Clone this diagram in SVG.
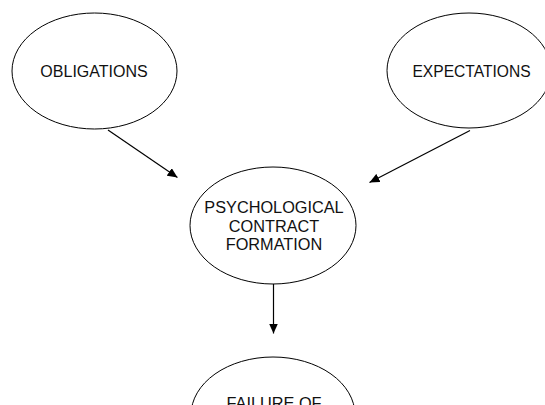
<svg xmlns="http://www.w3.org/2000/svg" width="545" height="405" viewBox="0 0 545 405">
<style>
.node ellipse{fill:#fff;stroke:#000;stroke-width:1}
.node text{font-family:"Liberation Sans",Arial,sans-serif;font-size:15.6px;fill:#111;text-anchor:middle}
.node text.big{font-size:16.3px}
.conn line{stroke:#000;stroke-width:1.2;fill:none}
</style>
<defs>
<marker id="arrow" markerUnits="userSpaceOnUse" markerWidth="10" markerHeight="9" viewBox="0 0 10 9" refX="10" refY="4.5" orient="auto">
<path d="M0,0 L10,4.5 L0,9 z" fill="#000"/>
</marker>
</defs>
<rect width="545" height="405" fill="#fff"/>
<g id="connectors" class="conn">
<line x1="108" y1="130" x2="177.5" y2="177.5" marker-end="url(#arrow)"/>
<line x1="470" y1="130.5" x2="369.5" y2="182.5" marker-end="url(#arrow)"/>
<line x1="273.5" y1="284" x2="273.5" y2="333.5" marker-end="url(#arrow)"/>
</g>
<g id="obligations" class="node">
<ellipse cx="94.5" cy="71" rx="82.5" ry="58"/>
<text x="94" y="76.5" style="font-size:16px">OBLIGATIONS</text>
</g>
<g id="expectations" class="node">
<ellipse cx="469" cy="70.5" rx="82" ry="57.5"/>
<text x="471.5" y="76.5">EXPECTATIONS</text>
</g>
<g id="psychological-contract-formation" class="node">
<ellipse cx="273" cy="225.5" rx="83" ry="58.5"/>
<text class="big" x="274" y="213">PSYCHOLOGICAL</text>
<text class="big" x="274" y="231.5">CONTRACT</text>
<text class="big" x="274" y="250">FORMATION</text>
</g>
<g id="failure-of" class="node">
<ellipse cx="273" cy="415" rx="82" ry="58"/>
<text class="big" x="274" y="408.5">FAILURE OF</text>
</g>
</svg>
